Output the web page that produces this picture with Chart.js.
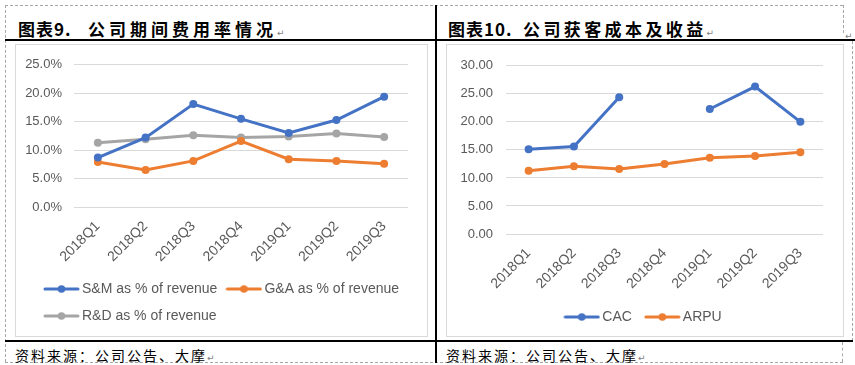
<!DOCTYPE html>
<html><head><meta charset="utf-8">
<script src="https://cdn.jsdelivr.net/npm/chart.js@4.4.0/dist/chart.umd.min.js"></script>
<style>
html,body{margin:0;padding:0;background:#fff;}
body{width:855px;height:365px;position:relative;overflow:hidden;}
.dh{position:absolute;height:0;border-top:1px dashed #a6a6a6;}
.dv{position:absolute;width:0;border-left:1px dashed #a6a6a6;}
.bk{position:absolute;background:#000;}
.t{position:absolute;font-family:"Noto Sans CJK SC";font-weight:bold;font-size:17px;line-height:17px;color:#000;white-space:nowrap;}
.s{position:absolute;font-family:"Noto Sans CJK SC";font-size:14px;line-height:14px;letter-spacing:2px;color:#000;white-space:nowrap;}
.r{font-family:"DejaVu Sans";font-weight:normal;font-size:9px;color:#808080;letter-spacing:0;}
.box{position:absolute;border:1px solid #d9d9d9;background:#fff;}
.box canvas{position:absolute;left:0;top:0;}
</style></head>
<body>
<div class="dh" style="left:5px;top:5px;width:838px"></div>
<div class="dv" style="left:5px;top:5px;height:357px"></div>
<div class="dh" style="left:5px;top:362px;width:838px"></div>
<div class="dv" style="left:843px;top:5px;height:28px"></div>
<div class="dv" style="left:852px;top:41px;height:300px"></div>
<div class="dv" style="left:842px;top:342px;height:20px"></div>
<div class="bk" style="left:5px;top:39px;width:850px;height:2px"></div>
<div class="bk" style="left:5px;top:340px;width:848px;height:2px"></div>
<div class="bk" style="left:435px;top:5px;width:2px;height:358px"></div>

<div class="t" style="left:18px;top:20px;letter-spacing:1px">图表9.</div>
<div class="t" style="left:88px;top:20px;letter-spacing:4px">公司期间费用率情况<span class="r">↵</span></div>
<div class="t" style="left:448px;top:20px;letter-spacing:1px">图表10.</div>
<div class="t" style="left:523px;top:20px;letter-spacing:3.4px">公司获客成本及收益<span class="r">↵</span></div>
<div class="t" style="left:845px;top:23px"><span class="r">↵</span></div>

<div class="box" style="left:15px;top:44px;width:411px;height:291px"><canvas id="c1" width="411" height="291"></canvas></div>
<div class="box" style="left:446px;top:44px;width:396px;height:291px"><canvas id="c2" width="396" height="291"></canvas></div>

<div class="s" style="left:15px;top:348px">资料来源：公司公告、大摩<span class="r">↵</span></div>
<div class="s" style="left:446px;top:348px">资料来源：公司公告、大摩<span class="r">↵</span></div>

<script>
// ---- data ----
const quarters = ['2018Q1','2018Q2','2018Q3','2018Q4','2019Q1','2019Q2','2019Q3'];
const smPct = [8.7, 12.2, 18.1, 15.5, 13.0, 15.3, 19.4];
const gaPct = [7.9, 6.5, 8.1, 11.6, 8.4, 8.1, 7.6];
const rdPct = [11.3, 11.9, 12.6, 12.2, 12.4, 12.9, 12.3];
const cacVals = [15.1, 15.6, 24.4, null, 22.3, 26.3, 20.0];
const arpuVals = [11.3, 12.1, 11.6, 12.5, 13.6, 13.9, 14.6];
const pctTicks = [0, 5, 10, 15, 20, 25];
const numTicks = [0, 5, 10, 15, 20, 25, 30];
const names1 = ['S&M as % of revenue', 'G&A as % of revenue', 'R&D as % of revenue'];
const names2 = ['CAC', 'ARPU'];

const BLUE = '#4472C4', ORANGE = '#ED7D31', GRAY = '#A5A5A5';

Chart.defaults.font.family = '"Liberation Sans", Arial, sans-serif';
Chart.defaults.color = '#595959';

function legendImg(color){
  const c = document.createElement('canvas'); c.width = 37; c.height = 10;
  const g = c.getContext('2d');
  g.strokeStyle = color; g.lineWidth = 3; g.lineCap = 'round';
  g.beginPath(); g.moveTo(2,5); g.lineTo(35,5); g.stroke();
  g.fillStyle = color; g.beginPath(); g.arc(18.5,5,3.8,0,Math.PI*2); g.fill();
  return c;
}

function ds(label, data, color){
  return {label, data, borderColor: color, backgroundColor: color, borderWidth: 3,
    pointRadius: 4, pointBorderWidth: 0, pointBackgroundColor: color, tension: 0, spanGaps: false};
}

function makeChart(id, datasets, ticks, fmt, geo){
  const imgs = datasets.map(d => legendImg(d.borderColor));
  return new Chart(document.getElementById(id), {
    type: 'line',
    data: {labels: quarters, datasets},
    plugins: [{id: 'legShift', afterLayout(chart){ if (geo.legL != null && chart.legend) chart.legend.left = geo.legL; }}],
    options: {
      responsive: false, animation: false,
      layout: {padding: {left: 0, right: 0, top: geo.padT, bottom: geo.padB}},
      scales: {
        x: {offset: true, grid: {display: false, drawTicks: false}, border: {display: false},
            ticks: {font: {size: 14}, color: '#595959', minRotation: 45, maxRotation: 45, autoSkip: false, padding: geo.xPad},
            afterFit: s => { s.height = geo.xH; }},
        y: {min: ticks[0], max: ticks[ticks.length-1],
            grid: {color: '#d9d9d9', lineWidth: 1, drawTicks: false}, border: {display: false},
            ticks: {stepSize: ticks[1]-ticks[0], font: {size: 13}, color: '#595959', padding: geo.yPad, callback: v => fmt(v)},
            afterFit: s => { s.width = geo.yW; }},
        y2: {position: 'right', display: true, grid: {display: false, drawTicks: false}, border: {display: false},
            ticks: {display: false}, afterFit: s => { s.width = geo.rW; }}
      },
      plugins: {
        tooltip: {enabled: false},
        legend: {position: 'bottom', align: geo.align,
          labels: {usePointStyle: true, pointStyleWidth: 27, padding: geo.legPad, font: {size: 14}, color: '#595959',
            generateLabels: chart => {
              const items = Chart.defaults.plugins.legend.labels.generateLabels(chart);
              items.forEach((it, i) => { it.pointStyle = imgs[i]; });
              return items;
            }}}
      }
    }
  });
}

makeChart('c1', [ds(names1[0], smPct, BLUE), ds(names1[1], gaPct, ORANGE), ds(names1[2], rdPct, GRAY)],
  pctTicks, v => v.toFixed(1) + '%',
  {padT: 18, padB: 3, xH: 62, yW: 58, rW: 19, yPad: 12, xPad: 11, legPad: 13, align: 'start', legL: 19});

makeChart('c2', [ds(names2[0], cacVals, BLUE), ds(names2[1], arpuVals, ORANGE)],
  numTicks, v => v.toFixed(2),
  {padT: 17, padB: 2, xH: 59, yW: 59, rW: 20, yPad: 13, xPad: 11, legPad: 17, align: 'center'});
</script>
</body></html>
